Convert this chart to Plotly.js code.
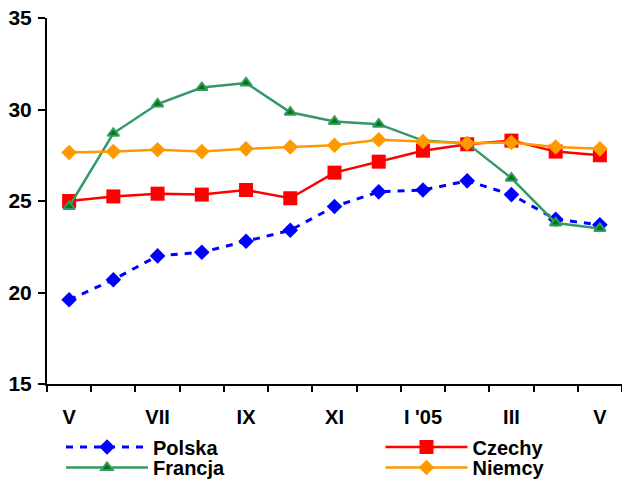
<!DOCTYPE html>
<html>
<head>
<meta charset="utf-8">
<script src="https://cdn.plot.ly/plotly-3.0.1.min.js"></script>
<style>html,body{margin:0;padding:0;background:#fff;}</style>
</head>
<body>
<div id="chart" style="width:622px;height:482px;"></div>
<script>
// Months (May 2004 - May 2005)
const months = ["V","VI","VII","VIII","IX","X","XI","XII","I '05","II","III","IV","V"];
const tickLabels = ["V","VII","IX","XI","I '05","III","V"];
const tickIndex = [0,2,4,6,8,10,12];

const polska  = [19.6, 20.7, 22.0, 22.2, 22.8, 23.4, 24.7, 25.5, 25.6, 26.1, 25.35, 24.0, 23.7];
const czechy  = [25.0, 25.25, 25.4, 25.35, 25.6, 25.15, 26.55, 27.15, 27.75, 28.1, 28.3, 27.7, 27.5];
const francja = [24.7, 28.7, 30.3, 31.2, 31.45, 29.85, 29.35, 29.2, 28.3, 28.15, 26.25, 23.8, 23.5];
const niemcy  = [27.65, 27.7, 27.8, 27.7, 27.85, 27.95, 28.05, 28.35, 28.25, 28.15, 28.2, 27.95, 27.85];

const xIdx = months.map((m, i) => i);

const traces = [
  {x: xIdx, y: polska, name: "Polska", mode: "lines+markers", text: months, legend: "legend",
   line: {color: "#0000FF", width: 3, dash: "7px,7px"},
   marker: {symbol: "diamond", size: 12, color: "#0000FF"}},
  {x: xIdx, y: czechy, name: "Czechy", mode: "lines+markers", text: months, legend: "legend2",
   line: {color: "#FF0000", width: 2.5},
   marker: {symbol: "square", size: 14, color: "#FF0000"}},
  {x: xIdx, y: francja, name: "Francja", mode: "lines+markers", text: months, legend: "legend3",
   line: {color: "#339966", width: 2.5},
   marker: {symbol: "triangle-up", size: 10, color: "#007A00", line: {color: "#339966", width: 2}}},
  {x: xIdx, y: niemcy, name: "Niemcy", mode: "lines+markers", text: months, legend: "legend4",
   line: {color: "#FF9900", width: 2.5},
   marker: {symbol: "diamond", size: 12, color: "#FF9900"}}
];

const fam = "Arial, 'Liberation Sans', sans-serif";
const legFont = {family: fam, size: 20, color: "#000", weight: "bold"};
function leg(x, y) {
  return {x: x, xanchor: "left", y: y, yanchor: "middle", itemwidth: 82,
          font: legFont, bgcolor: "rgba(0,0,0,0)", borderwidth: 0};
}

const layout = {
  width: 622, height: 482,
  margin: {l: 47, r: 0, t: 18, b: 98, autoexpand: false},
  paper_bgcolor: "#fff", plot_bgcolor: "#fff",
  font: {family: fam, size: 18, color: "#000", weight: "bold"},
  showlegend: true,
  xaxis: {
    range: [-0.5, 12.5], showgrid: false, zeroline: false,
    showline: true, linecolor: "#000", linewidth: 2,
    tickmode: "array", tickvals: tickIndex, ticktext: tickLabels,
    ticks: "", ticklen: 0,
    minor: {tickmode: "linear", tick0: -0.5, dtick: 1, ticks: "outside", ticklen: 6, tickwidth: 2, tickcolor: "#000", showgrid: false},
    tickfont: {family: fam, size: 20, color: "#000", weight: "bold"},
    ticklabelstandoff: 14
  },
  yaxis: {
    range: [15, 35], dtick: 5, showgrid: false, zeroline: false,
    showline: true, linecolor: "#000", linewidth: 2,
    ticks: "outside", ticklen: 7, tickwidth: 2, tickcolor: "#000",
    tickfont: {family: fam, size: 21, color: "#000", weight: "bold"},
    ticklabelstandoff: 2
  },
  legend:  leg(0.0244, -0.172),
  legend2: leg(0.580, -0.172),
  legend3: leg(0.0244, -0.228),
  legend4: leg(0.580, -0.228)
};

Plotly.newPlot("chart", traces, layout, {displayModeBar: false, staticPlot: true});
</script>
</body>
</html>
